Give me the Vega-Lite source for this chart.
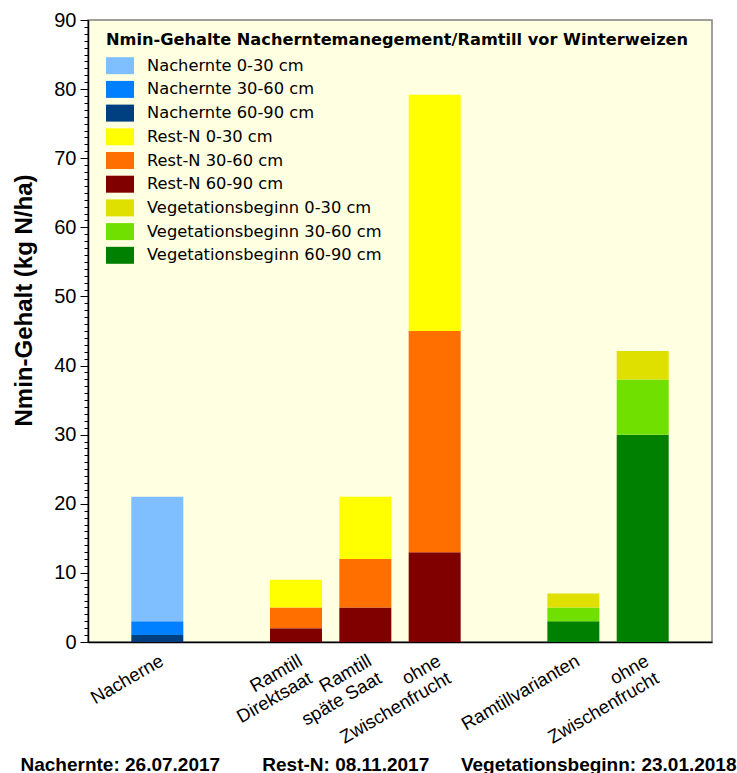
{
  "$schema": "https://vega.github.io/schema/vega-lite/v6.json",
  "autosize": "none",
  "padding": {"left": 88, "top": 20, "right": 25, "bottom": 131},
  "width": 624,
  "height": 622,
  "background": "white",
  "config": {
    "view": {"fill": "#FFFFE1", "stroke": "#808080", "strokeWidth": 1.5},
    "axis": {"domainColor": "black", "domainWidth": 1.5, "tickColor": "black", "grid": false}
  },
  "data": {
    "values": [
      {"kat": "Nacherne", "Serie": "Nachernte 60-90 cm", "Tiefe": "60-90", "wert": 1},
      {"kat": "Nacherne", "Serie": "Nachernte 30-60 cm", "Tiefe": "30-60", "wert": 2},
      {"kat": "Nacherne", "Serie": "Nachernte 0-30 cm", "Tiefe": "0-30", "wert": 18},
      {"kat": "Ramtill Direktsaat", "Serie": "Rest-N 60-90 cm", "Tiefe": "60-90", "wert": 2},
      {"kat": "Ramtill Direktsaat", "Serie": "Rest-N 30-60 cm", "Tiefe": "30-60", "wert": 3},
      {"kat": "Ramtill Direktsaat", "Serie": "Rest-N 0-30 cm", "Tiefe": "0-30", "wert": 4},
      {"kat": "Ramtill späte Saat", "Serie": "Rest-N 60-90 cm", "Tiefe": "60-90", "wert": 5},
      {"kat": "Ramtill späte Saat", "Serie": "Rest-N 30-60 cm", "Tiefe": "30-60", "wert": 7},
      {"kat": "Ramtill späte Saat", "Serie": "Rest-N 0-30 cm", "Tiefe": "0-30", "wert": 9},
      {"kat": "ohne Zwischenfrucht (Rest-N)", "Serie": "Rest-N 60-90 cm", "Tiefe": "60-90", "wert": 13},
      {"kat": "ohne Zwischenfrucht (Rest-N)", "Serie": "Rest-N 30-60 cm", "Tiefe": "30-60", "wert": 32},
      {"kat": "ohne Zwischenfrucht (Rest-N)", "Serie": "Rest-N 0-30 cm", "Tiefe": "0-30", "wert": 34.2},
      {"kat": "Ramtillvarianten", "Serie": "Vegetationsbeginn 60-90 cm", "Tiefe": "60-90", "wert": 3},
      {"kat": "Ramtillvarianten", "Serie": "Vegetationsbeginn 30-60 cm", "Tiefe": "30-60", "wert": 2},
      {"kat": "Ramtillvarianten", "Serie": "Vegetationsbeginn 0-30 cm", "Tiefe": "0-30", "wert": 2},
      {"kat": "ohne Zwischenfrucht (Vegetationsbeginn)", "Serie": "Vegetationsbeginn 60-90 cm", "Tiefe": "60-90", "wert": 30},
      {"kat": "ohne Zwischenfrucht (Vegetationsbeginn)", "Serie": "Vegetationsbeginn 30-60 cm", "Tiefe": "30-60", "wert": 8},
      {"kat": "ohne Zwischenfrucht (Vegetationsbeginn)", "Serie": "Vegetationsbeginn 0-30 cm", "Tiefe": "0-30", "wert": 4.1}
    ]
  },
  "mark": {"type": "bar", "width": 52, "strokeWidth": 0},
  "encoding": {
    "x": {
      "field": "kat",
      "type": "nominal",
      "sort": null,
      "scale": {
        "domain": ["Nacherne", "_leer1", "Ramtill Direktsaat", "Ramtill späte Saat", "ohne Zwischenfrucht (Rest-N)", "_leer2", "Ramtillvarianten", "ohne Zwischenfrucht (Vegetationsbeginn)"],
        "paddingInner": 0.249,
        "paddingOuter": 0.624
      },
      "axis": {
        "ticks": false,
        "labelAngle": -30,
        "labelAlign": "right",
        "labelBaseline": "top",
        "labelFont": "Liberation Sans",
        "labelFontSize": 18.5,
        "labelLineHeight": 20,
        "labelColor": "black",
        "labelPadding": 9,
        "labelOverlap": false,
        "labelBound": false,
        "labelExpr": "indexof(datum.value,'_')===0 ? '' : indexof(datum.value,'ohne Zwischenfrucht')===0 ? ['ohne','Zwischenfrucht'] : indexof(datum.value,'Ramtill ')===0 ? ['Ramtill', substring(datum.value,8)] : datum.value",
        "title": "Nachernte: 26.07.2017\u00a0\u00a0\u00a0\u00a0\u00a0\u00a0\u00a0\u00a0Rest-N: 08.11.2017\u00a0\u00a0\u00a0\u00a0\u00a0\u00a0Vegetationsbeginn: 23.01.2018",
        "titleFont": "Liberation Sans",
        "titleFontWeight": "bold",
        "titleFontSize": 19,
        "titleColor": "black",
        "titleAnchor": null,
        "titleAlign": "center",
        "titleBaseline": "alphabetic",
        "titleX": 290,
        "titleY": 128
      }
    },
    "y": {
      "field": "wert",
      "type": "quantitative",
      "stack": "zero",
      "scale": {"domain": [0, 90], "nice": false},
      "axis": {
        "values": [0,1,2,3,4,5,6,7,8,9,10,11,12,13,14,15,16,17,18,19,20,21,22,23,24,25,26,27,28,29,30,31,32,33,34,35,36,37,38,39,40,41,42,43,44,45,46,47,48,49,50,51,52,53,54,55,56,57,58,59,60,61,62,63,64,65,66,67,68,69,70,71,72,73,74,75,76,77,78,79,80,81,82,83,84,85,86,87,88,89,90],
        "labelExpr": "datum.value % 10 === 0 ? datum.label : ''",
        "tickSize": {"condition": {"test": "datum.value % 10 === 0", "value": 8}, "value": 4},
        "tickWidth": 1,
        "labelFont": "Liberation Sans",
        "labelFontSize": 20,
        "labelColor": "black",
        "labelPadding": 4,
        "labelOverlap": false,
        "labelBound": false,
        "labelFlush": false,
        "title": "Nmin-Gehalt (kg N/ha)",
        "titleFont": "Liberation Sans",
        "titleFontWeight": "bold",
        "titleFontSize": 24,
        "titleColor": "black",
        "titleAnchor": null,
        "titleAlign": "center",
        "titleBaseline": "alphabetic",
        "titleAngle": -90,
        "titleX": -57,
        "titleY": 280
      }
    },
    "color": {
      "field": "Serie",
      "type": "nominal",
      "scale": {
        "domain": ["Nachernte 0-30 cm", "Nachernte 30-60 cm", "Nachernte 60-90 cm", "Rest-N 0-30 cm", "Rest-N 30-60 cm", "Rest-N 60-90 cm", "Vegetationsbeginn 0-30 cm", "Vegetationsbeginn 30-60 cm", "Vegetationsbeginn 60-90 cm"],
        "range": ["#80BFFF", "#0080FF", "#004080", "#FFFF00", "#FF6F00", "#800000", "#E0E000", "#70E000", "#008000"]
      },
      "legend": {
        "title": "Nmin-Gehalte Nacherntemanegement/Ramtill vor Winterweizen",
        "orient": "none",
        "legendX": 18,
        "legendY": 12,
        "padding": 0,
        "titleFont": "DejaVu Sans",
        "titleFontWeight": "bold",
        "titleFontSize": 16.2,
        "titleColor": "black",
        "titlePadding": 9,
        "titleLimit": 700,
        "labelFont": "DejaVu Sans",
        "labelFontSize": 16.3,
        "labelColor": "black",
        "labelOffset": 24,
        "labelLimit": 400,
        "symbolType": "M-1,-1H2.294V1H-1Z",
        "symbolSize": 289,
        "symbolStrokeWidth": 0,
        "symbolOpacity": 1,
        "rowPadding": 6.7
      }
    },
    "order": {"field": "Tiefe", "sort": "descending"}
  }
}
